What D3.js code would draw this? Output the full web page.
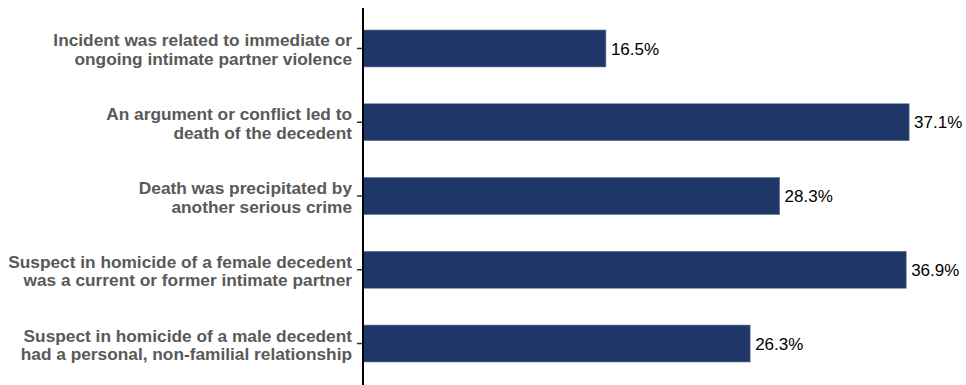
<!doctype html>
<html>
<head>
    <script src="https://d3js.org/d3.v7.min.js"></script>
    <style>
        body { margin: 0; background: #fff; }
        text { font-family: "Liberation Sans", Arial, sans-serif; }
    </style>
</head>
<body>
    <script>
        // categories (each split into two lines like the original)
        var categorias = [
            ["Incident was related to immediate or", "ongoing intimate partner violence"],
            ["An argument or conflict led to", "death of the decedent"],
            ["Death was precipitated by", "another serious crime"],
            ["Suspect in homicide of a female decedent", "was a current or former intimate partner"],
            ["Suspect in homicide of a male decedent", "had a personal, non-familial relationship"]
        ];
        var valores = [16.5, 37.1, 28.3, 36.9, 26.3];

        var width = 966;
        var height = 385;
        var eixoX = 363;

        var svg = d3.select("body").append("svg")
                    .attr("width", width)
                    .attr("height", height);

        var ids = d3.range(categorias.length);

        var x = d3.scaleLinear()
                  .domain([0, 40])
                  .range([eixoX, eixoX + 40 * 14.72]);

        var y = d3.scaleBand()
                  .domain(ids)
                  .range([11.6, 380.4])
                  .paddingInner(0.5)
                  .paddingOuter(0.25);

        // barras
        svg.selectAll("rect.bar")
           .data(valores)
           .enter()
           .append("rect")
           .attr("class", "bar")
           .attr("x", x(0))
           .attr("y", function(d, i){ return y(i); })
           .attr("width", function(d){ return x(d) - x(0); })
           .attr("height", y.bandwidth())
           .style("fill", "#1f3768")
           .style("stroke", "#5a6c96")
           .style("stroke-width", 0.6);

        // rotulos de valor
        svg.selectAll("text.valor")
           .data(valores)
           .enter()
           .append("text")
           .attr("class", "valor")
           .attr("x", function(d){ return x(d) + 5; })
           .attr("y", function(d, i){ return y(i) + y.bandwidth() / 2; })
           .attr("dy", "0.36em")
           .style("font-size", "17px")
           .style("fill", "#000")
           .text(function(d){ return d.toFixed(1) + "%"; });

        // eixo y: ticks curtos, sem texto (o texto vai em duas linhas abaixo)
        var eixo = svg.append("g")
            .attr("transform", "translate(" + eixoX + ",0)")
            .call(d3.axisLeft(y).tickSize(6).tickSizeOuter(0).tickFormat(""));
        eixo.select(".domain").remove();
        eixo.selectAll(".tick line").attr("stroke", "#333").attr("stroke-width", 1.5);

        svg.append("line")
           .attr("x1", eixoX).attr("x2", eixoX)
           .attr("y1", 8).attr("y2", height)
           .attr("stroke", "#000")
           .attr("stroke-width", 2);

        var rotulos = svg.selectAll("text.cat")
            .data(categorias)
            .enter()
            .append("text")
            .attr("class", "cat")
            .attr("text-anchor", "end")
            .style("font-size", "17.3px")
            .style("font-weight", "bold")
            .style("fill", "#595959");

        rotulos.selectAll("tspan")
            .data(function(d, i){ return d.map(function(t, j){ return {t: t, i: i, j: j}; }); })
            .enter()
            .append("tspan")
            .attr("x", 352)
            .attr("y", function(d){ return y(d.i) + y.bandwidth() / 2 - 2 + d.j * 18.5; })
            .text(function(d){ return d.t; });
    </script>
</body>
</html>
